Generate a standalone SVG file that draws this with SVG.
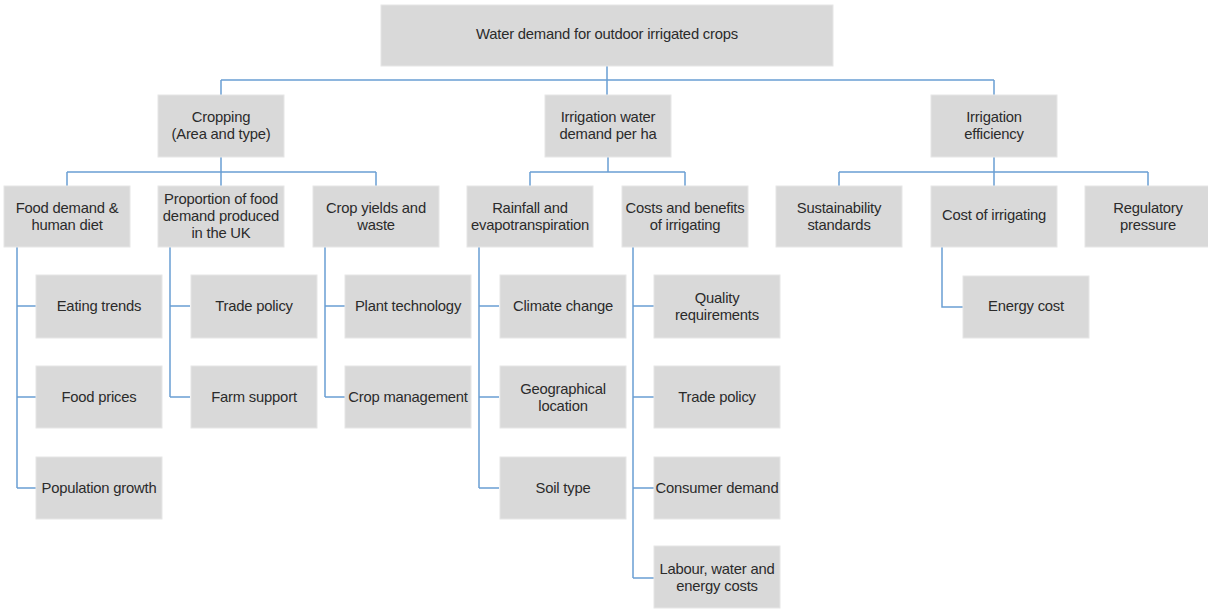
<svg xmlns="http://www.w3.org/2000/svg" width="1208" height="609" viewBox="0 0 1208 609">
<style>
.b{fill:#d9d9d9;stroke:#e6e6e6;stroke-width:1}
.t{font-family:"Liberation Sans",Arial,sans-serif;font-size:14.8px;fill:#2b2b2b;text-anchor:middle;dominant-baseline:central;letter-spacing:-0.2px}
.c{fill:none;stroke:#6a9fd4;stroke-width:1.5}
</style>
<rect width="1208" height="609" fill="#ffffff"/>
<g id="connectors">
<path class="c" d="M607 66V80M221 80H994M221 80V95M607 80V95M994 80V95"/>
<path class="c" d="M221 157V172M67 172H376M67 172V186M221 172V186M376 172V186"/>
<path class="c" d="M608 157V172M530 172H685M530 172V186M685 172V186"/>
<path class="c" d="M994 157V172M839 172H1148M839 172V186M994 172V186M1148 172V186"/>
<path class="c" d="M17 247V488M17 306H36M17 397H36M17 488H36"/>
<path class="c" d="M170 247V397M170 306H190M170 397H190"/>
<path class="c" d="M325 247V397M325 306H345M325 397H345"/>
<path class="c" d="M479 247V488M479 306H499M479 397H499M479 488H499"/>
<path class="c" d="M633 247V578M633 306H654M633 397H654M633 488H654M633 578H654"/>
<path class="c" d="M942 247V307H963"/>
</g>
<g id="root"><rect class="b" x="381" y="5" width="452" height="61"/><text class="t" x="607" y="34">Water demand for outdoor irrigated crops</text></g>
<g id="cropping"><rect class="b" x="158" y="95" width="126" height="62"/><text class="t" x="221" y="117">Cropping</text><text class="t" x="221" y="134">(Area and type)</text></g>
<g id="irrigation-water-demand"><rect class="b" x="545" y="95" width="126" height="62"/><text class="t" x="608" y="117">Irrigation water</text><text class="t" x="608" y="134">demand per ha</text></g>
<g id="irrigation-efficiency"><rect class="b" x="931" y="95" width="126" height="62"/><text class="t" x="994" y="117">Irrigation</text><text class="t" x="994" y="134">efficiency</text></g>
<g id="food-demand"><rect class="b" x="4" y="186" width="126" height="61"/><text class="t" x="67" y="208">Food demand &amp;</text><text class="t" x="67" y="225">human diet</text></g>
<g id="proportion"><rect class="b" x="158" y="186" width="126" height="61"/><text class="t" x="221" y="199">Proportion of food</text><text class="t" x="221" y="216">demand produced</text><text class="t" x="221" y="233">in the UK</text></g>
<g id="crop-yields"><rect class="b" x="313" y="186" width="126" height="61"/><text class="t" x="376" y="208">Crop yields and</text><text class="t" x="376" y="225">waste</text></g>
<g id="rainfall"><rect class="b" x="467" y="186" width="126" height="61"/><text class="t" x="530" y="208">Rainfall and</text><text class="t" x="530" y="225">evapotranspiration</text></g>
<g id="costs-benefits"><rect class="b" x="622" y="186" width="126" height="61"/><text class="t" x="685" y="208">Costs and benefits</text><text class="t" x="685" y="225">of irrigating</text></g>
<g id="sustainability"><rect class="b" x="776" y="186" width="126" height="61"/><text class="t" x="839" y="208">Sustainability</text><text class="t" x="839" y="225">standards</text></g>
<g id="cost-of-irrigating"><rect class="b" x="931" y="186" width="126" height="61"/><text class="t" x="994" y="215">Cost of irrigating</text></g>
<g id="regulatory"><rect class="b" x="1085" y="186" width="126" height="61"/><text class="t" x="1148" y="208">Regulatory</text><text class="t" x="1148" y="225">pressure</text></g>
<g id="eating-trends"><rect class="b" x="36" y="275" width="126" height="63"/><text class="t" x="99" y="306">Eating trends</text></g>
<g id="food-prices"><rect class="b" x="36" y="366" width="126" height="62"/><text class="t" x="99" y="397">Food prices</text></g>
<g id="population-growth"><rect class="b" x="36" y="457" width="126" height="62"/><text class="t" x="99" y="488">Population growth</text></g>
<g id="trade-policy-1"><rect class="b" x="191" y="275" width="126" height="63"/><text class="t" x="254" y="306">Trade policy</text></g>
<g id="farm-support"><rect class="b" x="191" y="366" width="126" height="62"/><text class="t" x="254" y="397">Farm support</text></g>
<g id="plant-technology"><rect class="b" x="345" y="275" width="126" height="63"/><text class="t" x="408" y="306">Plant technology</text></g>
<g id="crop-management"><rect class="b" x="345" y="366" width="126" height="62"/><text class="t" x="408" y="397">Crop management</text></g>
<g id="climate-change"><rect class="b" x="500" y="275" width="126" height="63"/><text class="t" x="563" y="306">Climate change</text></g>
<g id="geographical-location"><rect class="b" x="500" y="366" width="126" height="62"/><text class="t" x="563" y="389">Geographical</text><text class="t" x="563" y="406">location</text></g>
<g id="soil-type"><rect class="b" x="500" y="457" width="126" height="62"/><text class="t" x="563" y="488">Soil type</text></g>
<g id="quality-requirements"><rect class="b" x="654" y="275" width="126" height="63"/><text class="t" x="717" y="298">Quality</text><text class="t" x="717" y="315">requirements</text></g>
<g id="trade-policy-2"><rect class="b" x="654" y="366" width="126" height="62"/><text class="t" x="717" y="397">Trade policy</text></g>
<g id="consumer-demand"><rect class="b" x="654" y="457" width="126" height="62"/><text class="t" x="717" y="488">Consumer demand</text></g>
<g id="labour-costs"><rect class="b" x="654" y="546" width="126" height="62"/><text class="t" x="717" y="569">Labour, water and</text><text class="t" x="717" y="586">energy costs</text></g>
<g id="energy-cost"><rect class="b" x="963" y="276" width="126" height="62"/><text class="t" x="1026" y="306">Energy cost</text></g>
</svg>
